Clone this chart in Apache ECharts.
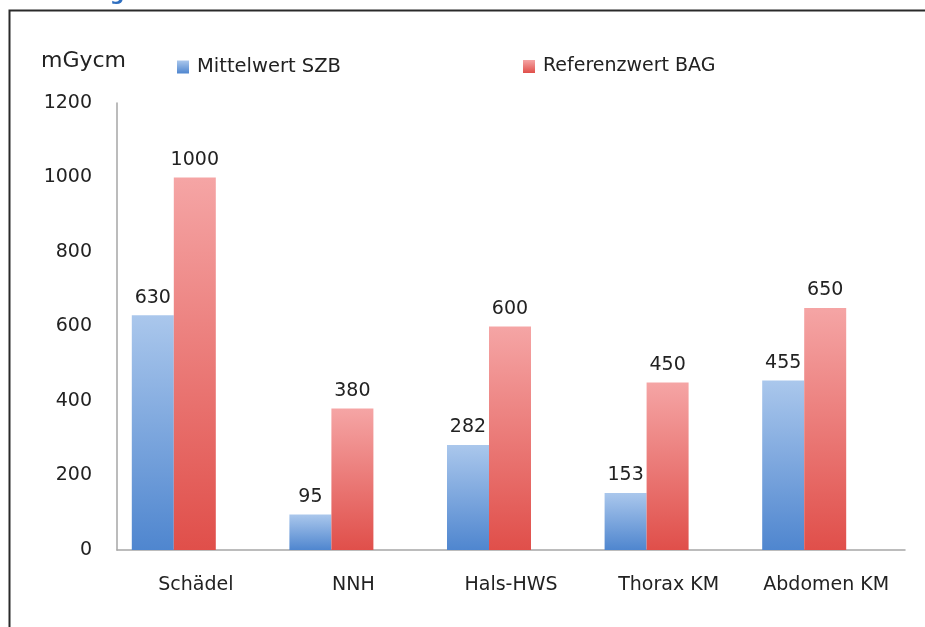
<!DOCTYPE html>
<html>
<head>
<meta charset="utf-8">
<script src="https://cdn.jsdelivr.net/npm/echarts@6/dist/echarts.min.js"></script>
<style>
html,body{margin:0;padding:0;background:#fff;}
#c{width:925px;height:627px;}
</style>
</head>
<body>
<div id="c"></div>
<script>
const categories = ['Schädel', 'NNH', 'Hals-HWS', 'Thorax KM', 'Abdomen KM'];
const mittelwertSZB = [630, 95, 282, 153, 455];
const referenzwertBAG = [1000, 380, 600, 450, 650];
const yTicks = [0, 200, 400, 600, 800, 1000, 1200];
const seriesNames = ['Mittelwert SZB', 'Referenzwert BAG'];
const unitLabel = 'mGycm';

const FONT = 'DejaVu Sans';
const TXT = '#222222';

const blueGrad = new echarts.graphic.LinearGradient(0, 0, 0, 1, [
  {offset: 0, color: '#aac7ec'},
  {offset: 1, color: '#4f86cf'}
]);
const redGrad = new echarts.graphic.LinearGradient(0, 0, 0, 1, [
  {offset: 0, color: '#f5a5a5'},
  {offset: 1, color: '#e04f4a'}
]);

const chart = echarts.init(document.getElementById('c'), null, {renderer: 'canvas'});
const labelCfg = {show: true, position: 'top', distance: 8, color: TXT, fontFamily: FONT, fontSize: 19};

chart.setOption({
  animation: false,
  backgroundColor: '#fff',
  textStyle: {fontFamily: FONT},
  graphic: [
    {type: 'rect', left: 7, top: 8, shape: {width: 940, height: 650}, style: {fill: 'none', stroke: '#2a2a2a', lineWidth: 2}, z: 10},
    {type: 'text', left: 110, top: -15, style: {text: 'g', fill: '#2f6fc0', font: 'bold 20px ' + FONT}},
    {type: 'text', left: 41, top: 50, style: {text: unitLabel, fill: TXT, font: '22px ' + FONT}}
  ],
  legend: [
    {data: [seriesNames[0]], left: 172, top: 52, icon: 'rect', itemWidth: 12, itemHeight: 13,
     textStyle: {color: TXT, fontFamily: FONT, fontSize: 19.5, padding: [0, 0, 0, 3]}},
    {data: [seriesNames[1]], left: 518, top: 52, icon: 'rect', itemWidth: 12, itemHeight: 13,
     textStyle: {color: TXT, fontFamily: FONT, fontSize: 19, padding: [0, 0, 0, 3]}}
  ],
  grid: [
    {left: 95, right: 42, top: 103, bottom: 77},
    {left: 117, right: 20, top: 103, bottom: 77}
  ],
  xAxis: [
    {type: 'category', gridIndex: 0, data: categories, show: false},
    {type: 'category', gridIndex: 1, data: categories,
     axisLine: {show: true, lineStyle: {color: '#a6a6a6', width: 1.5}},
     axisTick: {show: false},
     axisLabel: {interval: 0, color: TXT, fontFamily: FONT, fontSize: 19, margin: 26}}
  ],
  yAxis: [
    {type: 'value', gridIndex: 0, min: 0, max: 1200, interval: 200, show: false, splitLine: {show: false}},
    {type: 'value', gridIndex: 1, min: 0, max: 1200, interval: 200,
     axisLine: {show: true, lineStyle: {color: '#a6a6a6', width: 1.5}},
     axisTick: {show: false},
     splitLine: {show: false},
     axisLabel: {color: TXT, fontFamily: FONT, fontSize: 19, margin: 25,
       formatter: v => yTicks.includes(v) ? String(v) : ''}}
  ],
  series: [
    {name: seriesNames[0], type: 'bar', xAxisIndex: 0, yAxisIndex: 0, data: mittelwertSZB,
     barWidth: 42, barGap: '0%', itemStyle: {color: blueGrad}, label: labelCfg},
    {name: seriesNames[1], type: 'bar', xAxisIndex: 0, yAxisIndex: 0, data: referenzwertBAG,
     barWidth: 42, barGap: '0%', itemStyle: {color: redGrad}, label: labelCfg}
  ]
});
</script>
</body>
</html>
